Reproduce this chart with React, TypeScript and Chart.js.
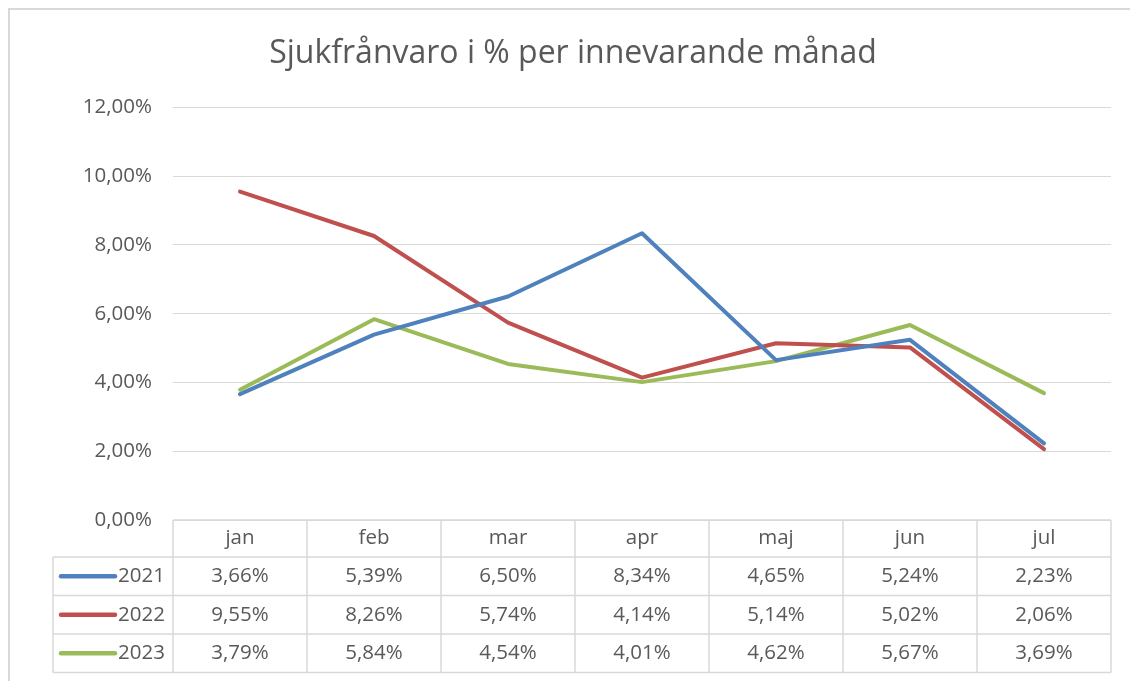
import React, { useEffect, useRef } from "react";
import { Chart, registerables } from "chart.js";
Chart.register(...registerables);

const months = ["jan", "feb", "mar", "apr", "maj", "jun", "jul"];
const seriesNames = ["2021", "2022", "2023"];
const v2021 = [3.66, 5.39, 6.5, 8.34, 4.65, 5.24, 2.23];
const v2022 = [9.55, 8.26, 5.74, 4.14, 5.14, 5.02, 2.06];
const v2023 = [3.79, 5.84, 4.54, 4.01, 4.62, 5.67, 3.69];
const seriesValues = [v2021, v2022, v2023];
const colors = ["#4f81bd", "#c0504d", "#9bbb59"];
const titleText = "Sjukfrånvaro i % per innevarande månad";
const yMin = 0;
const yMax = 12;
const yStep = 2;

const FONT = "'Open Sans', 'Noto Sans', sans-serif";
const TEXT = "#595959";
const GRID = "#d9d9d9";

const fmt = (v: number) => v.toFixed(2).replace(".", ",") + "%";

const tablePlugin = {
  id: "dataTable",
  afterDraw(chart: any) {
    const ctx = chart.ctx as CanvasRenderingContext2D;
    const xs = chart.scales.x;
    const { left, right, bottom } = chart.chartArea;
    const headerH = 37;
    const rowH = 38.5;
    const legendLeft = 43;
    const colW = (right - left) / months.length;
    const yHeader = bottom;
    const y1 = bottom + headerH;
    const yEnd = y1 + rowH * seriesNames.length;
    ctx.save();
    ctx.strokeStyle = GRID;
    ctx.lineWidth = 1.5;
    ctx.beginPath();
    ctx.moveTo(left, yHeader);
    ctx.lineTo(right, yHeader);
    for (let r = 0; r <= seriesNames.length; r++) {
      const y = y1 + r * rowH;
      ctx.moveTo(legendLeft, y);
      ctx.lineTo(right, y);
    }
    for (let c = 0; c <= months.length; c++) {
      const xx = left + c * colW;
      ctx.moveTo(xx, yHeader);
      ctx.lineTo(xx, yEnd);
    }
    ctx.moveTo(legendLeft, y1);
    ctx.lineTo(legendLeft, yEnd);
    ctx.stroke();

    ctx.fillStyle = TEXT;
    ctx.font = `20.5px ${FONT}`;
    ctx.textAlign = "center";
    ctx.textBaseline = "middle";
    months.forEach((m, i) => {
      ctx.fillText(m, xs.getPixelForValue(i), yHeader + headerH / 2);
    });
    seriesNames.forEach((name, r) => {
      const cy = y1 + r * rowH + rowH / 2;
      seriesValues[r].forEach((v, i) => {
        ctx.textAlign = "center";
        ctx.fillText(fmt(v), xs.getPixelForValue(i), cy);
      });
      ctx.strokeStyle = colors[r];
      ctx.lineWidth = 4.5;
      ctx.lineCap = "round";
      ctx.beginPath();
      ctx.moveTo(legendLeft + 8, cy);
      ctx.lineTo(legendLeft + 62, cy);
      ctx.stroke();
      ctx.textAlign = "left";
      ctx.fillText(name, legendLeft + 65, cy);
    });
    ctx.restore();
  },
};

export default function App() {
  const ref = useRef<HTMLCanvasElement>(null);
  useEffect(() => {
    const chart = new Chart(ref.current!, {
      type: "line",
      data: {
        labels: months,
        datasets: seriesNames.map((n, i) => ({
          label: n,
          data: seriesValues[i],
          borderColor: colors[i],
          backgroundColor: colors[i],
          borderWidth: 4,
          pointRadius: 0,
          tension: 0,
          borderJoinStyle: "round" as const,
          borderCapStyle: "round" as const,
          fill: false,
        })),
      },
      options: {
        animation: false,
        responsive: false,
        layout: { padding: { left: 25, right: 27, top: 0, bottom: 178 } },
        plugins: {
          legend: { display: false },
          tooltip: { enabled: false },
          title: {
            display: true,
            text: titleText,
            color: TEXT,
            font: { family: FONT, size: 32, weight: "normal" as any },
            padding: { top: 25, bottom: 34 },
          },
        },
        scales: {
          x: { type: "category", display: false, offset: true },
          y: {
            min: yMin,
            max: yMax,
            ticks: {
              stepSize: yStep,
              callback: (v: any) => fmt(Number(v)),
              color: TEXT,
              font: { family: FONT, size: 20.5 },
              padding: 21,
            },
            grid: { color: GRID, drawTicks: false, lineWidth: 1 },
            border: { display: false },
            afterFit: (s: any) => {
              s.width = 138;
            },
          },
        },
      },
      plugins: [tablePlugin],
    });
    return () => chart.destroy();
  }, []);
  return (
    <div
      style={{
        position: "fixed",
        left: 8,
        top: 8,
        width: 1130,
        height: 690,
        borderTop: `2px solid ${GRID}`,
        borderLeft: `2px solid ${GRID}`,
        boxSizing: "border-box",
        background: "#fff",
      }}
    >
      <canvas ref={ref} width={1128} height={688} style={{ display: "block" }} />
    </div>
  );
}
